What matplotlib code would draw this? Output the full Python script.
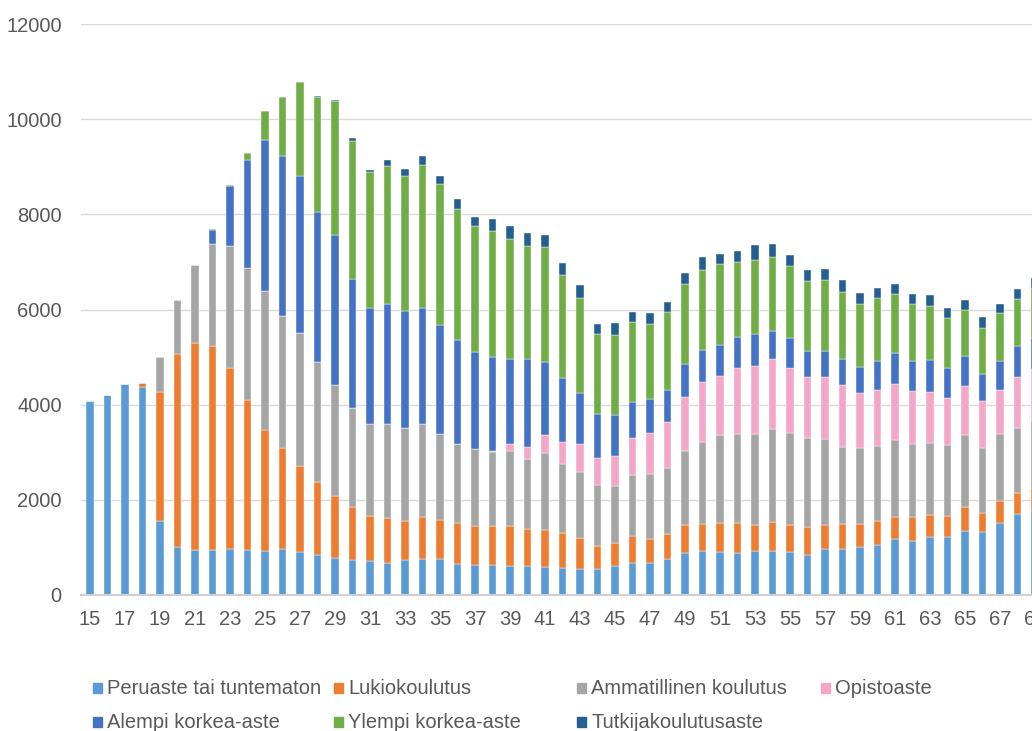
import numpy as np
import matplotlib
matplotlib.use("Agg")
import matplotlib.pyplot as plt
from matplotlib.patches import Rectangle

plt.rcParams['font.family'] = ['Liberation Sans', 'DejaVu Sans']

# ages 15..69 (the chart is cut at the right edge, 69 only shows a sliver)
ages = list(range(15, 70))

peruaste = [4080, 4210, 4425, 4380, 1555, 1000, 947, 940, 977, 939,
            924, 977, 909, 834, 774, 729, 706, 676, 729, 759,
            759, 654, 631, 624, 609, 609, 594, 571, 556, 541,
            611, 681, 667, 751, 877, 926, 898, 891, 919, 919,
            898, 842, 961, 961, 1018, 1053, 1172, 1137, 1214, 1214,
            1347, 1319, 1523, 1698, 1780]
lukio = [0, 0, 0, 68, 2705, 4065, 4350, 4290, 3794, 3156,
         2547, 2111, 1796, 1533, 1307, 1127, 947, 932, 834, 879,
         826, 856, 819, 819, 849, 788, 766, 729, 639, 481,
         477, 554, 505, 526, 590, 562, 625, 618, 555, 611,
         569, 583, 520, 527, 484, 498, 463, 498, 470, 449,
         492, 400, 449, 442, 470]
ammatillinen = [0, 0, 0, 0, 735, 1140, 1630, 2140, 2569, 2779,
                2923, 2780, 2802, 2532, 2337, 2073, 1931, 1991, 1946, 1961,
                1803, 1668, 1623, 1555, 1562, 1458, 1615, 1450, 1382, 1285,
                1193, 1277, 1368, 1383, 1558, 1733, 1831, 1873, 1901, 1951,
                1929, 1866, 1789, 1621, 1586, 1579, 1621, 1537, 1509, 1488,
                1515, 1369, 1403, 1369, 1400]
opisto = [0, 0, 0, 0, 0, 0, 0, 0, 0, 0,
          0, 0, 0, 0, 0, 0, 0, 0, 10, 0,
          0, 0, 0, 37, 143, 248, 391, 473, 586, 571,
          638, 779, 856, 975, 1136, 1249, 1257, 1383, 1432, 1473,
          1383, 1298, 1312, 1312, 1151, 1172, 1172, 1109, 1081, 982,
          1032, 982, 941, 1080, 1100]
alempi = [0, 0, 0, 0, 0, 0, 10, 308, 1262, 2269,
          3170, 3358, 3298, 3148, 3148, 2713, 2441, 2524, 2446, 2426,
          2292, 2186, 2028, 1969, 1796, 1848, 1533, 1330, 1089, 924,
          863, 772, 723, 681, 695, 674, 638, 653, 681, 597,
          625, 541, 548, 547, 561, 617, 660, 638, 659, 639,
          639, 576, 603, 646, 660]
ylempi = [0, 0, 0, 0, 0, 0, 0, 15, 23, 151,
          616, 1247, 1984, 2426, 2810, 2907, 2855, 2893, 2848, 3021,
          2960, 2750, 2645, 2637, 2532, 2374, 2411, 2164, 1999, 1683,
          1692, 1677, 1579, 1621, 1684, 1691, 1698, 1586, 1544, 1558,
          1515, 1466, 1488, 1397, 1326, 1320, 1242, 1193, 1137, 1046,
          968, 968, 1004, 990, 1040]
tutkija = [0, 0, 0, 0, 0, 0, 0, 0, 0, 0,
           0, 0, 0, 10, 30, 45, 61, 120, 135, 180,
           158, 203, 195, 255, 270, 293, 263, 263, 255, 217,
           252, 197, 232, 217, 232, 267, 225, 231, 322, 259,
           225, 225, 238, 246, 218, 203, 210, 204, 232, 217,
           203, 225, 196, 203, 210]

series = [peruaste, lukio, ammatillinen, opisto, alempi, ylempi, tutkija]
labels = ["Peruaste tai tuntematon", "Lukiokoulutus", "Ammatillinen koulutus",
          "Opistoaste", "Alempi korkea-aste", "Ylempi korkea-aste",
          "Tutkijakoulutusaste"]
colors = ["#5B9BD5", "#ED7D31", "#A5A5A5", "#F4A6C8",
          "#4472C4", "#70AD47", "#255E91"]

W, H = 1032, 731
fig = plt.figure(figsize=(W / 100, H / 100), dpi=100)
# plot area runs past the right edge like in the cropped original
ax = fig.add_axes([81.25 / W, (H - 595) / H, 962.5 / W, 571 / H])

x = np.array(ages)
bottom = np.zeros(len(ages))
for vals, lab, col in zip(series, labels, colors):
    ax.bar(x, vals, width=0.42, bottom=bottom, color=col, label=lab,
           edgecolor="white", linewidth=0.3, zorder=3)
    bottom += np.array(vals)

ax.set_xlim(14.5, 69.5)
ax.set_ylim(0, 12000)
ax.set_yticks(range(0, 12001, 2000))
ax.set_xticks(ages[::2])
ax.grid(axis="y", color="#D9D9D9", linewidth=1, zorder=0)
for s in ["top", "right", "left"]:
    ax.spines[s].set_visible(False)
ax.spines["bottom"].set_color("#D0D0D0")
ax.spines["bottom"].set_linewidth(1.5)
ax.spines["bottom"].set_zorder(4)
ax.tick_params(axis="both", length=0, labelsize=14.5, labelcolor="#595959")
ax.tick_params(axis="y", pad=14)
ax.tick_params(axis="x", pad=11)

# legend, laid out like the original (4 fixed columns, 2 rows)
col_x = [93, 334, 577, 821]
row_y = [688, 722]
order = [(0, 0), (0, 1), (0, 2), (0, 3), (1, 0), (1, 1), (1, 2)]
for (r, c), lab, col in zip(order, labels, colors):
    px, py = col_x[c], row_y[r]
    fig.patches.append(Rectangle((px / W, (H - py - 5) / H), 9 / W, 10 / H,
                                 transform=fig.transFigure, color=col))
    fig.text((px + 14) / W, (H - py) / H, lab, fontsize=14.5,
             color="#595959", va="center", ha="left")

fig.savefig("out.png", dpi=100)
